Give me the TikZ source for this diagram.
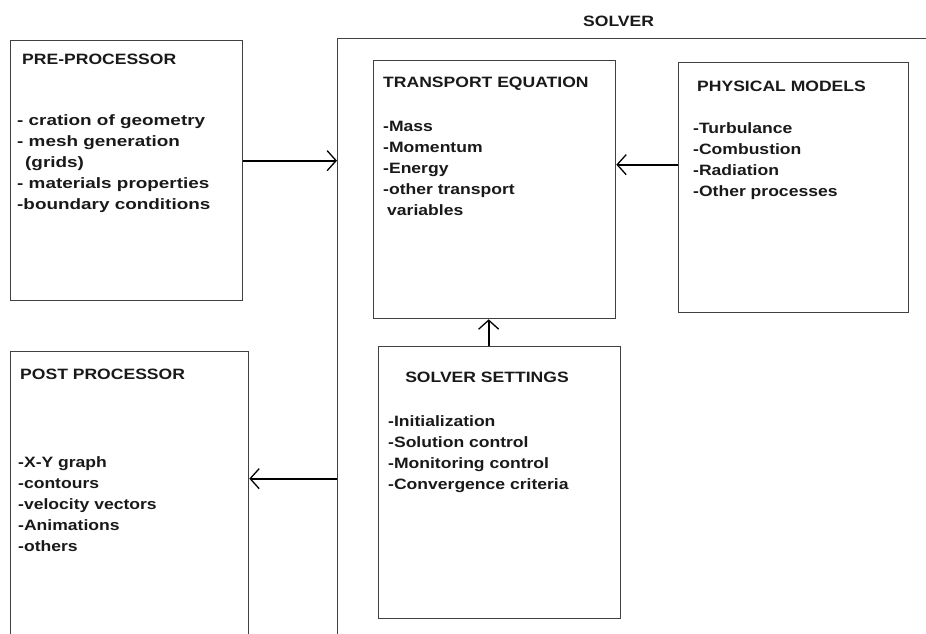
\documentclass[tikz,border=0pt]{standalone}
\usepackage{fontspec}
\setmainfont{Liberation Sans}[FakeStretch=1.17]
\newfontfamily\widefont{Liberation Sans}[FakeStretch=1.26]
\usetikzlibrary{arrows.meta}
\begin{document}
\begin{tikzpicture}[x=1pt,y=-1pt,
  box/.style={draw=black!75, line width=1.3pt, inner sep=0pt, anchor=north west},
  txt/.style={anchor=north west, inner sep=0pt, align=left, font=\fontsize{15}{21}\selectfont\bfseries, text=black!90},
  conn/.style={line width=1.8pt, -{Straight Barb[length=9pt,width=20pt,line width=1.3pt]}}]
\useasboundingbox (0,0) rectangle (926,633);
\clip (0,0) rectangle (926,633);
% boxes
\node[box, minimum width=232pt, minimum height=260pt] (pre) at (10,40) {};
\node[box, minimum width=238pt, minimum height=300pt] (post) at (10,351) {};
\node[box, minimum width=620pt, minimum height=620pt] (solver) at (337,38) {};
\node[box, minimum width=242pt, minimum height=258pt] (trans) at (373,60) {};
\node[box, minimum width=230pt, minimum height=250pt] (phys) at (678,62) {};
\node[box, minimum width=242pt, minimum height=272pt] (sett) at (378,346) {};
% connectors
\draw[conn] ([yshift=10pt]pre.east) -- ([yshift=10pt]pre.east -| solver.west);
\draw[conn] ([yshift=23pt]phys.west) -- ([yshift=23pt]phys.west -| trans.east);
\draw[conn] ([xshift=-11pt]sett.north) -- ([xshift=-11pt]sett.north |- trans.south);
\draw[conn] ([yshift=23pt]post.east -| solver.west) -- ([yshift=23pt]post.east);
% texts
\node[txt] (solvert) at (583,16) {SOLVER};
\node[txt] (pret) at (22,54) {PRE-PROCESSOR};
\node[txt, font=\fontsize{15}{21}\selectfont\widefont\bfseries] (prel) at (17,114) {- cration of geometry\\- mesh generation\\\hspace*{8pt}(grids)\\- materials properties\\-boundary conditions};
\node[txt] (transt) at (383,77) {TRANSPORT EQUATION};
\node[txt] (transl) at (383,121) {-Mass\\-Momentum\\-Energy\\-other transport\\\hspace*{4pt}variables};
\node[txt] (physt) at (697,81) {PHYSICAL MODELS};
\node[txt] (physl) at (693,122) {-Turbulance\\-Combustion\\-Radiation\\-Other processes};
\node[txt, anchor=north] (settt) at (487,372) {SOLVER SETTINGS};
\node[txt] (settl) at (388,415) {-Initialization\\-Solution control\\-Monitoring control\\-Convergence criteria};
\node[txt] (postt) at (20,369) {POST PROCESSOR};
\node[txt] (postl) at (18,456) {-X-Y graph\\-contours\\-velocity vectors\\-Animations\\-others};
\end{tikzpicture}
\end{document}
